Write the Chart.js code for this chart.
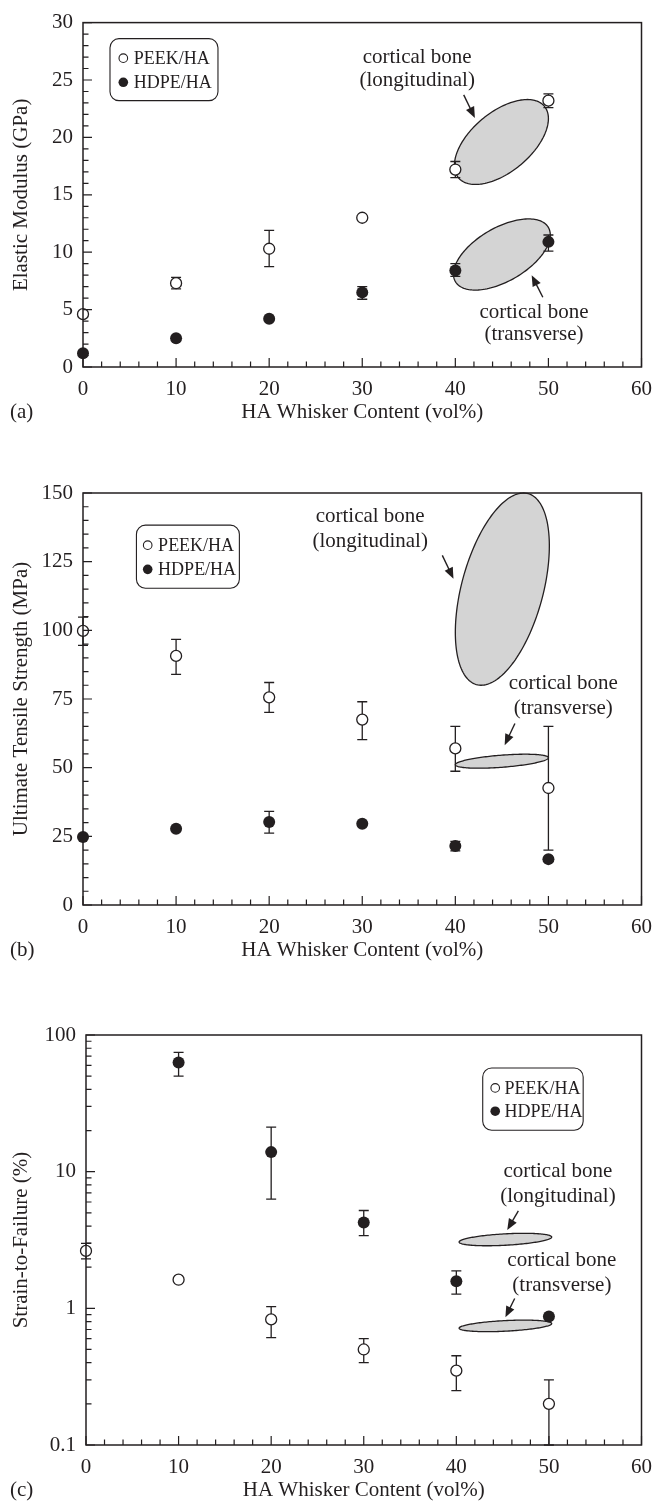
<!DOCTYPE html>
<html>
<head>
<meta charset="utf-8">
<title>HA whisker composites vs cortical bone</title>
<script src="https://cdn.jsdelivr.net/npm/chart.js@4.4.1/dist/chart.umd.min.js"></script>
<style>
  html, body { margin: 0; padding: 0; background: #fff; }
  body { width: 662px; height: 1506px; position: relative; overflow: hidden; }
  canvas { position: absolute; left: 0; display: block; }
</style>
</head>
<body>
<canvas id="chartA" width="662" height="428" style="top:0px"></canvas>
<canvas id="chartB" width="662" height="526" style="top:440px"></canvas>
<canvas id="chartC" width="662" height="526" style="top:980px"></canvas>
<script>
// HA whisker content (vol%)
const xContent = [0, 10, 20, 30, 40, 50];
const xTicks = [0, 10, 20, 30, 40, 50, 60];

// (a) elastic modulus, GPa
const peekModulus   = [4.6, 7.3, 10.3, 13.0, 17.2, 23.2];
const peekModulusLo = [null, 6.8, 8.75, null, 16.5, 22.6];
const peekModulusHi = [null, 7.8, 11.9, null, 17.9, 23.8];
const hdpeModulus   = [1.2, 2.5, 4.2, 6.5, 8.4, 10.9];
const hdpeModulusLo = [null, null, null, 5.9, 7.9, 10.1];
const hdpeModulusHi = [null, null, null, 7.0, 9.0, 11.5];
const modulusTicks  = [0, 5, 10, 15, 20, 25, 30];

// (b) ultimate tensile strength, MPa
const peekStrength   = [99.8, 90.7, 75.6, 67.5, 57.0, 42.6];
const peekStrengthLo = [94.5, 84.0, 70.1, 60.2, 48.7, 20.0];
const peekStrengthHi = [104.8, 96.7, 81.0, 74.0, 65.0, 65.0];
const hdpeStrength   = [24.8, 27.8, 30.2, 29.6, 21.5, 16.7];
const hdpeStrengthLo = [null, null, 26.2, null, 19.7, null];
const hdpeStrengthHi = [null, null, 34.1, null, 23.2, null];
const strengthTicks  = [0, 25, 50, 75, 100, 125, 150];

// (c) strain-to-failure, %
const peekStrain   = [2.63, 1.62, 0.83, 0.50, 0.35, 0.20];
const peekStrainLo = [2.3, null, 0.61, 0.40, 0.25, 0.10];
const peekStrainHi = [2.99, null, 1.03, 0.60, 0.45, 0.30];
const hdpeStrain   = [null, 63, 13.9, 4.25, 1.58, 0.87];
const hdpeStrainLo = [null, 50, 6.3, 3.4, 1.27, null];
const hdpeStrainHi = [null, 74.7, 21.2, 5.2, 1.88, null];
const strainTicks  = [0.1, 1, 10, 100];

// cortical bone ranges: [x min, x max, y min, y max, tilt]
const boneModulusLong   = [39.9, 50.0, 15.9, 23.3, 0.55];
const boneModulusTrans  = [39.8, 50.2, 6.7, 12.9, 0.55];
const boneStrengthLong  = [40.0, 50.1, 80, 150, 0.45];
const boneStrengthTrans = [40.0, 50.0, 49.8, 54.9, 0.5];
const boneStrainLong    = [40.3, 50.3, 2.87, 3.54, 0.4];
const boneStrainTrans   = [40.3, 50.3, 0.675, 0.82, 0.4];

const FONT = '"Liberation Serif", "Times New Roman", serif';
const INK = '#231f20';
const BONE_FILL = '#d4d4d4';

function points(values) {
    return xContent.map((x, i) => ({ x: x, y: values[i] })).filter(p => p.y !== null);
}

// Draws the frame, inward ticks, bone ellipses, error bars, legend box and notes
function decorPlugin(cfg) {
    return {
        id: 'decor',
        beforeDatasetsDraw(chart) {
            const ctx = chart.ctx;
            const xs = chart.scales.x, ys = chart.scales.y;
            ctx.save();

            cfg.bones.forEach(b => {
                const x0 = xs.getPixelForValue(b[0]), x1 = xs.getPixelForValue(b[1]);
                const y0 = ys.getPixelForValue(b[2]), y1 = ys.getPixelForValue(b[3]);
                const cx = (x0 + x1) / 2, cy = (y0 + y1) / 2;
                const w = (x1 - x0) / 2, h = Math.abs(y0 - y1) / 2;
                const phi = Math.acos(b[4]);
                ctx.beginPath();
                for (let i = 0; i <= 160; i++) {
                    const t = i / 160 * Math.PI * 2;
                    const px = cx + w * Math.cos(t);
                    const py = cy - h * Math.cos(t - phi);
                    if (i === 0) ctx.moveTo(px, py); else ctx.lineTo(px, py);
                }
                ctx.closePath();
                ctx.fillStyle = BONE_FILL;
                ctx.fill();
                ctx.lineWidth = 1.3;
                ctx.strokeStyle = INK;
                ctx.stroke();
            });

            // error bars
            ctx.strokeStyle = INK;
            ctx.lineWidth = 1.3;
            cfg.errors.forEach(([lo, hi]) => {
                xContent.forEach((x, i) => {
                    if (lo[i] === null || hi[i] === null) return;
                    const px = xs.getPixelForValue(x);
                    const pLo = ys.getPixelForValue(lo[i]);
                    const pHi = ys.getPixelForValue(hi[i]);
                    ctx.beginPath();
                    ctx.moveTo(px, pLo); ctx.lineTo(px, pHi);
                    ctx.moveTo(px - 5, pLo); ctx.lineTo(px + 5, pLo);
                    ctx.moveTo(px - 5, pHi); ctx.lineTo(px + 5, pHi);
                    ctx.stroke();
                });
            });
            ctx.restore();
        },
        afterDraw(chart) {
            const ctx = chart.ctx;
            const area = chart.chartArea;
            const xs = chart.scales.x, ys = chart.scales.y;
            ctx.save();
            ctx.strokeStyle = INK;
            ctx.fillStyle = INK;

            // frame
            ctx.lineWidth = 1.5;
            ctx.strokeRect(area.left, area.top, area.right - area.left, area.bottom - area.top);

            // ticks pointing inward on bottom and left axes
            ctx.lineWidth = 1.2;
            ctx.beginPath();
            for (let v = 0; v <= 60; v += 2) {
                const px = xs.getPixelForValue(v);
                const len = v % 10 === 0 ? 9 : 5.5;
                ctx.moveTo(px, area.bottom); ctx.lineTo(px, area.bottom - len);
            }
            cfg.yMinor.forEach(v => {
                const py = ys.getPixelForValue(v);
                ctx.moveTo(area.left, py); ctx.lineTo(area.left + 5.5, py);
            });
            cfg.yMajor.forEach(v => {
                const py = ys.getPixelForValue(v);
                ctx.moveTo(area.left, py); ctx.lineTo(area.left + 9, py);
            });
            ctx.stroke();

            // legend box
            const lg = cfg.legend;
            const bx0 = xs.getPixelForValue(lg.box[0]), bx1 = xs.getPixelForValue(lg.box[1]);
            const by0 = ys.getPixelForValue(lg.box[3]), by1 = ys.getPixelForValue(lg.box[2]);
            ctx.lineWidth = 1.1;
            ctx.beginPath();
            ctx.roundRect(bx0, by0, bx1 - bx0, by1 - by0, 9);
            ctx.stroke();
            const mx = xs.getPixelForValue(lg.markX), tx = xs.getPixelForValue(lg.textX);
            ctx.font = '18px ' + FONT;
            ctx.textAlign = 'left';
            ctx.textBaseline = 'middle';
            ['PEEK/HA', 'HDPE/HA'].forEach((label, i) => {
                const py = ys.getPixelForValue(lg.rows[i]);
                ctx.beginPath();
                if (i === 0) {
                    ctx.arc(mx, py, 4.3, 0, Math.PI * 2);
                    ctx.fillStyle = '#fff';
                    ctx.fill();
                    ctx.lineWidth = 1.1;
                    ctx.stroke();
                } else {
                    ctx.arc(mx, py, 4.8, 0, Math.PI * 2);
                    ctx.fillStyle = INK;
                    ctx.fill();
                }
                ctx.fillStyle = INK;
                ctx.fillText(label, tx, py + 1);
            });

            // cortical bone notes with arrows
            ctx.font = '21px ' + FONT;
            ctx.textAlign = 'center';
            cfg.notes.forEach(n => {
                const px = xs.getPixelForValue(n.x);
                n.lines.forEach((line, i) => ctx.fillText(line, px, ys.getPixelForValue(n.y[i])));
                const ax0 = xs.getPixelForValue(n.arrow[0]), ay0 = ys.getPixelForValue(n.arrow[1]);
                const ax1 = xs.getPixelForValue(n.arrow[2]), ay1 = ys.getPixelForValue(n.arrow[3]);
                const ang = Math.atan2(ay1 - ay0, ax1 - ax0);
                ctx.lineWidth = 1.4;
                ctx.beginPath();
                ctx.moveTo(ax0, ay0);
                ctx.lineTo(ax1 - 6 * Math.cos(ang), ay1 - 6 * Math.sin(ang));
                ctx.stroke();
                ctx.beginPath();
                ctx.moveTo(ax1, ay1);
                ctx.lineTo(ax1 - 11 * Math.cos(ang) + 4.5 * Math.sin(ang), ay1 - 11 * Math.sin(ang) - 4.5 * Math.cos(ang));
                ctx.lineTo(ax1 - 11 * Math.cos(ang) - 4.5 * Math.sin(ang), ay1 - 11 * Math.sin(ang) + 4.5 * Math.cos(ang));
                ctx.closePath();
                ctx.fill();
            });

            // panel tag
            ctx.textAlign = 'left';
            ctx.fillText(cfg.tag, 10, area.bottom + 45);
            ctx.restore();
        }
    };
}

function makePanel(cfg) {
    const axisFont = { family: FONT, size: 21 };
    const yScale = {
        type: cfg.yType,
        min: cfg.yMin,
        max: cfg.yMax,
        afterFit: s => { s.width = cfg.left; },
        afterBuildTicks: s => { s.ticks = cfg.yMajor.map(v => ({ value: v })); },
        grid: { display: false, drawTicks: false },
        border: { display: false },
        ticks: {
            padding: 10,
            color: INK,
            font: axisFont,
            autoSkip: false,
            callback: v => String(v)
        },
        title: { display: true, text: cfg.yTitle, color: INK, font: axisFont, padding: { top: 9, bottom: 0 } }
    };

    return new Chart(document.getElementById(cfg.canvas), {
        type: 'scatter',
        data: {
            datasets: [
                {
                    label: 'PEEK/HA',
                    data: points(cfg.peek),
                    pointRadius: 5.5,
                    pointBorderWidth: 1.3,
                    pointBackgroundColor: '#fff',
                    pointBorderColor: INK,
                    clip: false
                },
                {
                    label: 'HDPE/HA',
                    data: points(cfg.hdpe),
                    pointRadius: 6,
                    pointBorderWidth: 0,
                    pointBackgroundColor: INK,
                    pointBorderColor: INK,
                    clip: false
                }
            ]
        },
        options: {
            responsive: false,
            animation: false,
            events: [],
            layout: { padding: { left: 0, right: 14, top: cfg.top, bottom: 0 } },
            plugins: {
                legend: { display: false },
                tooltip: { enabled: false }
            },
            scales: {
                x: {
                    type: 'linear',
                    min: 0,
                    max: 60,
                    afterFit: s => { s.height = 61; },
                    afterBuildTicks: s => { s.ticks = xTicks.map(v => ({ value: v })); },
                    grid: { display: false, drawTicks: false },
                    border: { display: false },
                    ticks: { padding: 10, color: INK, font: axisFont, maxRotation: 0, autoSkip: false },
                    title: { display: true, text: 'HA Whisker Content (vol%)', color: INK, font: axisFont, padding: { top: 0, bottom: 3 } }
                },
                y: yScale
            }
        },
        plugins: [decorPlugin(cfg)]
    });
}

function logMinors(ticks) {
    const out = [];
    ticks.slice(0, -1).forEach(d => { for (let k = 2; k <= 9; k++) out.push(k * d); });
    return out;
}

function stepMinors(max, step) {
    const out = [];
    for (let v = step; v < max; v += step) out.push(v);
    return out;
}

document.addEventListener('DOMContentLoaded', () => {
    makePanel({
        canvas: 'chartA', tag: '(a)', top: 16, left: 83,
        yType: 'linear', yMin: 0, yMax: 30, yMajor: modulusTicks, yMinor: stepMinors(30, 1),
        yTitle: 'Elastic Modulus (GPa)',
        peek: peekModulus, hdpe: hdpeModulus,
        errors: [[peekModulusLo, peekModulusHi], [hdpeModulusLo, hdpeModulusHi]],
        bones: [boneModulusLong, boneModulusTrans],
        legend: { box: [2.9, 14.5, 23.2, 28.6], markX: 4.33, textX: 5.46, rows: [26.9, 24.8] },
        notes: [
            { x: 35.9, y: [27.0, 24.95], lines: ['cortical bone', '(longitudinal)'], arrow: [40.9, 23.7, 42.1, 21.7] },
            { x: 48.45, y: [4.77, 2.8], lines: ['cortical bone', '(transverse)'], arrow: [49.4, 6.08, 48.2, 7.99] }
        ]
    });

    makePanel({
        canvas: 'chartB', tag: '(b)', top: 53, left: 83,
        yType: 'linear', yMin: 0, yMax: 150, yMajor: strengthTicks, yMinor: stepMinors(150, 5),
        yTitle: 'Ultimate Tensile Strength (MPa)',
        peek: peekStrength, hdpe: hdpeStrength,
        errors: [[peekStrengthLo, peekStrengthHi], [hdpeStrengthLo, hdpeStrengthHi]],
        bones: [boneStrengthLong, boneStrengthTrans],
        legend: { box: [5.74, 16.8, 115.3, 138.3], markX: 6.95, textX: 8.07, rows: [131, 122.2] },
        notes: [
            { x: 30.85, y: [141.5, 132.5], lines: ['cortical bone', '(longitudinal)'], arrow: [38.6, 127.3, 39.8, 118.8] },
            { x: 51.6, y: [80.6, 71.5], lines: ['cortical bone', '(transverse)'], arrow: [46.4, 66.1, 45.3, 58.2] }
        ]
    });

    makePanel({
        canvas: 'chartC', tag: '(c)', top: 55, left: 86,
        yType: 'logarithmic', yMin: 0.1, yMax: 100, yMajor: strainTicks, yMinor: logMinors(strainTicks),
        yTitle: 'Strain-to-Failure (%)',
        peek: peekStrain, hdpe: hdpeStrain,
        errors: [[peekStrainLo, peekStrainHi], [hdpeStrainLo, hdpeStrainHi]],
        bones: [boneStrainLong, boneStrainTrans],
        legend: { box: [42.85, 53.7, 20.1, 57.4], markX: 44.2, textX: 45.2, rows: [41, 27.7] },
        notes: [
            { x: 50.97, y: [9.95, 6.57], lines: ['cortical bone', '(longitudinal)'], arrow: [46.7, 5.16, 45.5, 3.75] },
            { x: 51.4, y: [2.23, 1.46], lines: ['cortical bone', '(transverse)'], arrow: [46.3, 1.18, 45.3, 0.86] }
        ]
    });
});
</script>
</body>
</html>
